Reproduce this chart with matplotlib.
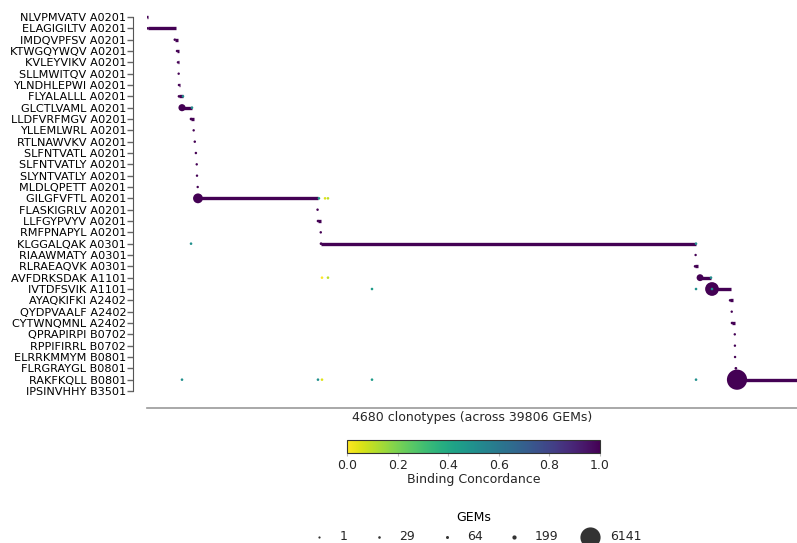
import numpy as np
import matplotlib
matplotlib.use('Agg')
import matplotlib.pyplot as plt
from matplotlib import cm, colors

# rows (peptide + HLA), top to bottom
peptides = ['NLVPMVATV A0201', 'ELAGIGILTV A0201', 'IMDQVPFSV A0201', 'KTWGQYWQV A0201',
            'KVLEYVIKV A0201', 'SLLMWITQV A0201', 'YLNDHLEPWI A0201', 'FLYALALLL A0201',
            'GLCTLVAML A0201', 'LLDFVRFMGV A0201', 'YLLEMLWRL A0201', 'RTLNAWVKV A0201',
            'SLFNTVATL A0201', 'SLFNTVATLY A0201', 'SLYNTVATLY A0201', 'MLDLQPETT A0201',
            'GILGFVFTL A0201', 'FLASKIGRLV A0201', 'LLFGYPVYV A0201', 'RMFPNAPYL A0201',
            'KLGGALQAK A0301', 'RIAAWMATY A0301', 'RLRAEAQVK A0301', 'AVFDRKSDAK A1101',
            'IVTDFSVIK A1101', 'AYAQKIFKI A2402', 'QYDPVAALF A2402', 'CYTWNQMNL A2402',
            'QPRAPIRPI B0702', 'RPPIFIRRL B0702', 'ELRRKMMYM B0801', 'FLRGRAYGL B0801',
            'RAKFKQLL B0801', 'IPSINVHHY B3501']

# concordant clonotype block per row (clonotype rank), first clonotype GEM count
seg_start = [0, 5, 200, 216, 223, 228, 230, 230, 252, 317, 336, 344, 352, 358, 360, 365,
             367, 1228, 1231, 1251, 1253, 3950, 3946, 3982, 4068, 4198, 4210, 4212, 4232,
             4233, 4234, 4240, 4248, np.nan]
seg_end = [7, 209, 223, 230, 230, 232, 238, 259, 324, 338, 340, 348, 355, 361, 362, 368,
           1231, 1233, 1253, 1256, 3953, 3955, 3967, 4061, 4205, 4219, 4214, 4234, 4236,
           4236, 4237, 4243, 4680, np.nan]
top_gems = [20, 30, 25, 20, 20, 15, 15, 30, 700, 40, 15, 20, 20, 15, 15, 15,
            1400, 20, 30, 20, 40, 15, 30, 650, 2800, 25, 15, 30, 15, 15, 15, 40, 6141, 0]

# low-concordance clonotypes (row, rank, concordance)
odd_row = [7, 8, 16, 16, 16, 20, 20, 23, 23, 23, 24, 24, 24, 32, 32, 32, 32, 32]
odd_x = [259, 324, 1238, 1282, 1303, 317, 3953, 1260, 1303, 4061, 1620, 3953, 4068,
         252, 1231, 1260, 1620, 3953]
odd_conc = [0.5, 0.5, 0.45, 0.05, 0.1, 0.5, 0.5, 0.0, 0.1, 0.5, 0.45, 0.5, 0.5,
            0.5, 0.5, 0.05, 0.45, 0.5]

n_clonotypes = 4680
n_gems = 39806
legend_gems = [1, 29, 64, 199, 6141]


def gem_size(g):
    return 2.5 + np.asarray(g, dtype=float) * 0.034


cmap = plt.get_cmap('viridis_r')
norm = colors.Normalize(0, 1)
purple = cmap(1.0)
txt = '#262626'

fig = plt.figure(figsize=(7.97, 5.43), dpi=100)
ax = fig.add_axes([147 / 797, 1 - 408 / 543, 650 / 797, 403 / 543])

rows = np.arange(len(peptides))
ax.hlines(rows, seg_start, seg_end, color=purple, lw=2.4, zorder=2)
ax.scatter(seg_start, rows, s=gem_size(top_gems), color=purple, lw=0, zorder=3)
ax.scatter(odd_x, odd_row, s=3.5, c=odd_conc, cmap=cmap, norm=norm, lw=0, zorder=4)

ax.set_xlim(0, n_clonotypes)
ax.set_ylim(34.5, -1.06)
ax.set_yticks(rows, labels=peptides)
ax.set_xticks([])
ax.tick_params(axis='y', length=4, width=1, color='#666666', pad=1,
               labelsize=8.1, labelcolor='black')
for s in ['top', 'right']:
    ax.spines[s].set_visible(False)
ax.spines['left'].set_position(('outward', 10))
ax.spines['left'].set_bounds(0, len(peptides) - 1)
ax.spines['left'].set_color('#555555')
ax.spines['bottom'].set_color('#999999')
ax.spines['bottom'].set_linewidth(1.2)
ax.set_xlabel(f'{n_clonotypes} clonotypes (across {n_gems} GEMs)', fontsize=9,
              color=txt, labelpad=2)

# colorbar
cax = fig.add_axes([347 / 797, 1 - 453 / 543, 253 / 797, 13 / 543])
cb = fig.colorbar(cm.ScalarMappable(norm=norm, cmap=cmap), cax=cax, orientation='horizontal')
cb.set_ticks([0, 0.2, 0.4, 0.6, 0.8, 1.0])
cb.ax.tick_params(labelsize=9, labelcolor=txt, length=2, pad=2, color='#bbbbbb')
cb.outline.set_edgecolor('#333333')
cb.outline.set_linewidth(0.8)
cb.set_label('Binding Concordance', fontsize=9, color=txt, labelpad=1)

# size legend
handles = [ax.scatter([], [], s=gem_size(g), color='#333333', lw=0) for g in legend_gems]
fig.legend(handles, [str(g) for g in legend_gems], title='GEMs', ncol=5, frameon=False,
           loc='upper center', bbox_to_anchor=(474 / 797, 1 - 500 / 543),
           fontsize=9, title_fontsize=9, columnspacing=1.55, handletextpad=0.6,
           scatterpoints=1, labelcolor=txt)

fig.savefig('out.png', dpi=100)
